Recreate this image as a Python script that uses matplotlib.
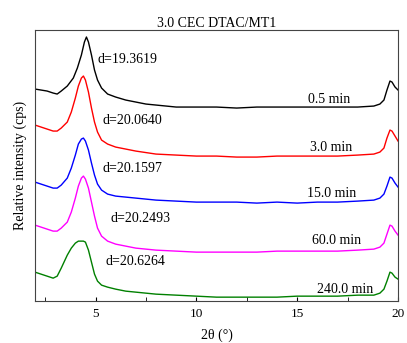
import matplotlib
matplotlib.use("Agg")
import matplotlib.pyplot as plt
from matplotlib.ticker import MultipleLocator

plt.rcParams['font.family'] = ['Liberation Serif', 'DejaVu Serif']

theta = [2.0, 2.3, 2.6, 2.9, 3.1, 3.3, 3.6, 3.8, 4.0, 4.15, 4.3, 4.4, 4.5, 4.65,
         4.8, 4.95, 5.1, 5.3, 5.6, 6.0, 6.5, 7.0, 8.0, 9.0, 10, 11, 12, 13, 14,
         15, 16, 17, 18, 18.8, 19.1, 19.3, 19.45, 19.6, 19.7, 19.85, 20.0]

theta_black = [2.0, 2.3, 2.6, 2.9, 3.1, 3.3, 3.6, 3.9, 4.1, 4.3, 4.45, 4.55, 4.65,
               4.8, 4.95, 5.1, 5.3, 5.6, 6.0, 6.5, 7.0, 7.5, 8.0, 9.0, 10, 11, 12,
               13, 14, 15, 16, 17, 18, 18.8, 19.1, 19.3, 19.45, 19.6, 19.7, 19.85, 20.0]

i_05 = [254, 253, 252, 250, 249, 252, 257, 265, 275, 288, 301, 306, 301, 288, 273,
        263, 255, 249, 246, 243, 241, 239, 238, 236, 236, 236, 235, 236, 236, 236,
        236, 236, 236, 237, 239, 243, 253, 262, 261, 256, 253]
i_3 = [218, 216, 214, 212, 212, 215, 221, 231, 245, 257, 265, 267, 263, 251, 235,
       221, 211, 203, 199, 196, 194, 192, 189, 188, 187, 187, 186, 186, 187, 187,
       187, 187, 188, 189, 191, 195, 205, 213, 212, 207, 202]
i_15 = [161, 159, 157, 155, 155, 158, 165, 175, 188, 199, 204, 205, 202, 193, 180,
        168, 159, 153, 149, 147, 146, 145, 143, 142, 141, 141, 141, 140, 141, 140,
        141, 141, 142, 143, 145, 149, 157, 166, 165, 160, 156]
i_60 = [118, 116, 114, 112, 112, 115, 121, 131, 145, 157, 165, 167, 164, 155, 141,
        127, 115, 107, 102, 99, 97, 95, 93, 92, 91, 91, 91, 91, 92, 92, 92, 92, 93,
        94, 96, 100, 109, 118, 117, 112, 108]
i_240 = [71, 69, 67, 65, 67, 75, 88, 95, 100, 102, 102, 102, 101, 93, 81, 69, 62,
         58, 56, 54, 52, 51, 49, 48, 47, 46, 46, 46, 46, 47, 47, 47, 48, 48, 50, 54,
         62, 71, 70, 66, 64]

times = ["0.5 min", "3.0 min", "15.0 min", "60.0 min", "240.0 min"]
d_labels = ["d=19.3619", "d=20.0640", "d=20.1597", "d=20.2493", "d=20.6264"]
colors = ["black", "#ff0000", "#0000ff", "#ff00ff", "#008000"]

series = [(theta_black, i_05), (theta, i_3), (theta, i_15), (theta, i_60), (theta, i_240)]
d_pos = [(5.12, 284), (5.37, 223), (5.37, 175), (5.72, 125), (5.52, 82)]
t_pos = [(16.58, 244), (16.68, 196), (16.72, 150), (16.97, 103), (17.37, 54)]

fig = plt.figure(figsize=(4.07, 3.43), dpi=100)
ax = fig.add_axes([0.086, 0.122, 0.892, 0.7905])

for (x, y), c in zip(series, colors):
    ax.plot(x, y, color=c, lw=1.0)
for (x, y), s in zip(d_pos, d_labels):
    ax.text(x, y, s, ha='left', va='center', fontsize=10)
for (x, y), s in zip(t_pos, times):
    ax.text(x, y, s, ha='center', va='center', fontsize=10)

ax.set_xlim(2, 20)
ax.set_ylim(42, 313)
ax.set_yticks([])
ax.xaxis.set_major_locator(MultipleLocator(5))
ax.xaxis.set_minor_locator(MultipleLocator(2.5))
ax.tick_params(axis='x', which='both', direction='in', length=3, labelsize=9.5,
               top=False, pad=5)
for sp in ax.spines.values():
    sp.set_color('#444444')
    sp.set_linewidth(0.8)
ax.set_title("3.0 CEC DTAC/MT1", fontsize=10, pad=2)
ax.set_xlabel("2θ (°)", fontsize=10, labelpad=6)
ax.set_ylabel("Relative intensity (cps)", fontsize=10, labelpad=6)

fig.savefig("out.png", dpi=100)
